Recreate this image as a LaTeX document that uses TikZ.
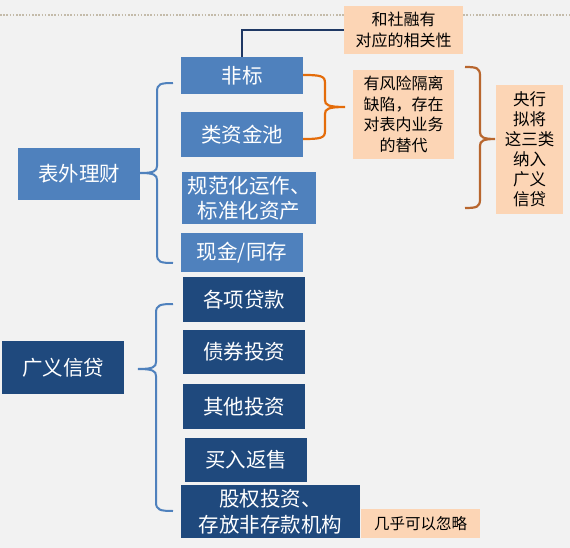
\documentclass[tikz,border=0pt]{standalone}
\usepackage{fontspec}
\setmainfont{Noto Sans CJK SC}
\usetikzlibrary{calc}
\definecolor{bgc}{HTML}{F2F2F2}
\definecolor{midblue}{HTML}{4F81BD}
\definecolor{darkblue}{HTML}{1F497D}
\definecolor{peach}{HTML}{FCD5B5}
\definecolor{orangeline}{HTML}{E46C0A}
\definecolor{brownline}{HTML}{B8662E}
\definecolor{navyline}{HTML}{1F3864}
\definecolor{dotc}{HTML}{C4BBAA}
\begin{document}
\begin{tikzpicture}[x=1pt,y=-1pt,
  lbox/.style={fill=midblue,text=white,inner sep=0pt,align=center,font=\fontsize{20.5}{25}\selectfont},
  dbox/.style={fill=darkblue,text=white,inner sep=0pt,align=center,font=\fontsize{20.5}{26}\selectfont},
  pbox/.style={fill=peach,text=black,inner sep=0pt,align=center,font=\fontsize{16}{20.5}\selectfont},
  bluebrace/.style={draw=midblue,line width=2pt},
  orbrace/.style={draw=orangeline,line width=2.2pt},
  brbrace/.style={draw=brownline,line width=2.2pt}]
\useasboundingbox (0,0) rectangle (570,548);
\fill[bgc] (0,0) rectangle (570,548);
% dotted line
\coordinate (d1) at (0,15);
\coordinate (d2) at (570,15);
% top boxes
\node[pbox,minimum width=119pt,minimum height=48pt] (shr) at (403.5,30) {和社融有\\对应的相关性};
\draw[dotc,line width=1.6pt,dash pattern=on 1.6pt off 1.6pt] (d1) -- (shr.west |- d1);
\draw[dotc,line width=1.6pt,dash pattern=on 1.6pt off 1.6pt] (shr.east |- d2) -- (d2);
% upper group
\node[lbox,minimum width=122pt,minimum height=52pt] (bwlc) at (79,174) {表外理财};
\node[lbox,minimum width=122pt,minimum height=37pt] (fb) at (242,75.5) {非标};
\node[lbox,minimum width=122pt,minimum height=45pt] (lzjc) at (242,134.5) {类资金池};
\node[lbox,minimum width=134pt,minimum height=52pt] (gfh) at (249,198) {规范化运作、\\标准化资产};
\node[lbox,minimum width=122pt,minimum height=39pt] (xj) at (242,252.5) {现金/同存};
\node[pbox,minimum width=101pt,minimum height=89pt] (fx) at (403.5,114.5) {有风险隔离\\缺陷，存在\\对表内业务\\的替代};
\node[pbox,minimum width=67pt,minimum height=129pt,font=\fontsize{16.5}{20}\selectfont] (yh) at (529.5,149.5) {央行\\拟将\\这三类\\纳入\\广义\\信贷};
% lower group
\node[dbox,minimum width=122pt,minimum height=53pt] (gyxd) at (63,367.5) {广义信贷};
\node[dbox,minimum width=122pt,minimum height=45pt] (gxdk) at (244,299.5) {各项贷款};
\node[dbox,minimum width=122pt,minimum height=44pt] (zqtz) at (244,352) {债券投资};
\node[dbox,minimum width=122pt,minimum height=45pt] (qttz) at (244,406.5) {其他投资};
\node[dbox,minimum width=122pt,minimum height=44pt] (mrfs) at (246,460) {买入返售};
\node[dbox,minimum width=179pt,minimum height=53pt] (gqtz) at (270.5,511.5) {股权投资、\\存放非存款机构};
\node[pbox,minimum width=119pt,minimum height=29pt,font=\fontsize{15.5}{19}\selectfont] (jh) at (420.5,523.5) {几乎可以忽略};
% connector from 非标 to 和社融有
\draw[navyline,line width=2.2pt] (fb.north) |- (shr.west);
% upper blue brace
\coordinate (ub1) at (173,83);
\coordinate (ub2) at (173,263);
\coordinate (ubv) at (157,173);
\draw[bluebrace] (ub1) .. controls (160,83) and (157,84) .. (157,92) -- (157,166)
  .. controls (157,171) and (154,173) .. (bwlc.east |- ubv)
  (bwlc.east |- ubv) .. controls (154,173) and (157,175) .. (157,180) -- (157,254)
  .. controls (157,262) and (160,263) .. (ub2);
% lower blue brace
\coordinate (lb1) at (173,304);
\coordinate (lb2) at (173,511);
\coordinate (lbt) at (138,369);
\draw[bluebrace] (lb1) .. controls (160,304) and (156,305) .. (156,313) -- (156,362)
  .. controls (156,367) and (153,369) .. (lbt)
  (lbt) .. controls (153,369) and (156,371) .. (156,376) -- (156,502)
  .. controls (156,510) and (160,511) .. (lb2);
% orange brace
\coordinate (ob1) at (303,75);
\coordinate (ob2) at (303,139);
\coordinate (obt) at (345,107);
\draw[orbrace] (ob1) .. controls (321,75) and (325,76) .. (325,83) -- (325,100)
  .. controls (325,105) and (328,107) .. (obt)
  (obt) .. controls (328,107) and (325,109) .. (325,114) -- (325,131)
  .. controls (325,138) and (321,139) .. (ob2);
% brown brace
\coordinate (bb1) at (465,67);
\coordinate (bb2) at (465,208);
\coordinate (bbt) at (495,139);
\draw[brbrace] (bb1) .. controls (477,67) and (480,68) .. (480,76) -- (480,132)
  .. controls (480,137) and (483,139) .. (bbt)
  (bbt) .. controls (483,139) and (480,141) .. (480,146) -- (480,199)
  .. controls (480,207) and (477,208) .. (bb2);
\end{tikzpicture}
\end{document}
